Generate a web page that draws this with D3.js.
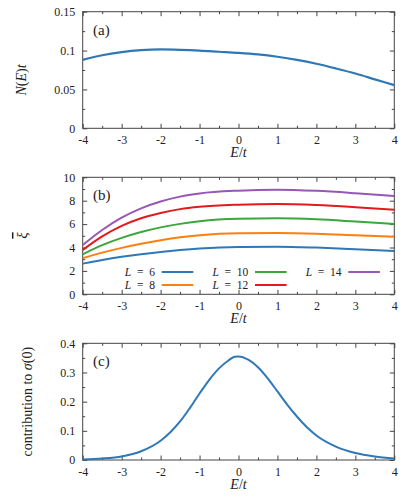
<!DOCTYPE html>
<html lang="en">
<head>
<meta charset="UTF-8">
<title>three-panel</title>
<style>
    body { margin: 0; background: #fff; }
    svg, svg text, svg tspan { font-family: "Liberation Serif", "Times New Roman", Times, "DejaVu Serif", "Noto Serif", serif !important; }
    svg text { fill: #222; }
</style>
<script src="https://d3js.org/d3.v7.min.js"></script>
</head>
<body>
<script>
    // ---- data ----
    let xTicks = [-4, -3, -2, -1, 0, 1, 2, 3, 4];
    let xMinor = [-3.5, -2.5, -1.5, -0.5, 0.5, 1.5, 2.5, 3.5];

    // (a) density of states N(E)t
    let energyA = [-4, -3.5, -3, -2.5, -2, -1.5, -1, -0.5, 0, 0.5, 1, 1.5, 2, 2.5, 3, 3.5, 4];
    let dos = [0.088, 0.094, 0.098, 0.1005, 0.1015, 0.101, 0.1, 0.0985, 0.097, 0.095, 0.092, 0.088, 0.083, 0.077, 0.0705, 0.063, 0.0555];
    let yTicksA = [0, 0.05, 0.1, 0.15];
    let yLabelsA = ["0", "0.05", "0.1", "0.15"];
    let yMinorA = [0.025, 0.075, 0.125];

    // (b) mean localisation length for each L
    let energyB = [-4, -3.5, -3, -2.5, -2, -1.5, -1, 0, 1, 2, 3, 4];
    let sizes = [6, 8, 10, 12, 14];
    let xiL6 = [2.62, 2.93, 3.20, 3.43, 3.62, 3.78, 3.91, 4.05, 4.07, 3.99, 3.85, 3.70];
    let xiL8 = [3.08, 3.56, 3.97, 4.32, 4.62, 4.87, 5.05, 5.22, 5.24, 5.18, 5.05, 4.92];
    let xiL10 = [3.42, 4.20, 4.82, 5.32, 5.72, 6.02, 6.24, 6.45, 6.49, 6.41, 6.22, 6.01];
    let xiL12 = [3.79, 4.95, 5.85, 6.50, 6.95, 7.28, 7.48, 7.66, 7.72, 7.63, 7.45, 7.23];
    let xiL14 = [4.21, 5.50, 6.55, 7.35, 7.93, 8.35, 8.62, 8.86, 8.94, 8.84, 8.64, 8.40];
    let colorsB = ["#2f78b8", "#ff7f0e", "#3ca63c", "#e4191c", "#9857b4"];
    let yTicksB = [0, 2, 4, 6, 8, 10];
    let yLabelsB = ["0", "2", "4", "6", "8", "10"];
    let yMinorB = [1, 3, 5, 7, 9];

    // (c) contribution to sigma(0)
    let energyC = [-4, -3.5, -3, -2.5, -2, -1.75, -1.5, -1.25, -1, -0.75, -0.5, -0.25, -0.1, 0, 0.25, 0.5, 0.75, 1, 1.25, 1.5, 1.75, 2, 2.5, 3, 3.5, 4];
    let sigma = [0.002, 0.005, 0.012, 0.030, 0.066, 0.095, 0.132, 0.178, 0.228, 0.275, 0.314, 0.342, 0.354, 0.355, 0.344, 0.318, 0.280, 0.235, 0.190, 0.149, 0.113, 0.084, 0.046, 0.024, 0.012, 0.005];
    let yTicksC = [0, 0.1, 0.2, 0.3, 0.4];
    let yLabelsC = ["0", "0.1", "0.2", "0.3", "0.4"];
    let yMinorC = [0.05, 0.15, 0.25, 0.35];

    let width = 415, height = 498;
    let left = 82.7, right = 394.3;
    let frameColor = "#444";
    let serif = "'Liberation Serif', 'Times New Roman', 'DejaVu Serif', serif";

    let svg = d3.select("body").append("svg")
        .attr("width", width).attr("height", height)
        .attr("font-family", serif);

    let x = d3.scaleLinear().domain([-4, 4]).range([left, right]);

    function panel(top, bottom, yDomain, yTicks, yLabels, yMinor, tag) {
        let y = d3.scaleLinear().domain(yDomain).range([bottom, top]);
        let g = svg.append("g");

        // ticks, all pointing inward, mirrored on top/right
        let axes = [
            [d3.axisBottom(x).tickValues(xTicks).tickSize(-4.5).tickPadding(7).tickFormat(d => String(d)), `translate(0,${bottom})`],
            [d3.axisBottom(x).tickValues(xMinor).tickSize(-2.5).tickFormat(""), `translate(0,${bottom})`],
            [d3.axisTop(x).tickValues(xTicks).tickSize(-4.5).tickFormat(""), `translate(0,${top})`],
            [d3.axisTop(x).tickValues(xMinor).tickSize(-2.5).tickFormat(""), `translate(0,${top})`],
            [d3.axisLeft(y).tickValues(yTicks).tickSize(-4.5).tickPadding(7.5).tickFormat((d, i) => yLabels[i]), `translate(${left},0)`],
            [d3.axisLeft(y).tickValues(yMinor).tickSize(-2.5).tickFormat(""), `translate(${left},0)`],
            [d3.axisRight(y).tickValues(yTicks).tickSize(-4.5).tickFormat(""), `translate(${right},0)`],
            [d3.axisRight(y).tickValues(yMinor).tickSize(-2.5).tickFormat(""), `translate(${right},0)`]
        ];
        axes.forEach(a => {
            let ag = g.append("g").attr("transform", a[1]).call(a[0])
                .attr("font-family", serif);
            ag.select(".domain").remove();
            ag.selectAll("line").attr("stroke", frameColor);
            ag.selectAll("text").attr("font-size", 12).attr("fill", "#222");
        });

        g.append("rect")
            .attr("x", left).attr("y", top)
            .attr("width", right - left).attr("height", bottom - top)
            .attr("fill", "none").attr("stroke", frameColor).attr("stroke-width", 1);

        g.append("text")
            .attr("x", 93).attr("y", top + 23)
            .attr("font-size", 15)
            .text(tag);

        // x axis title E/t
        let xt = g.append("text")
            .attr("x", x(0)).attr("y", bottom + 29)
            .attr("text-anchor", "middle").attr("font-size", 14);
        xt.append("tspan").attr("font-style", "italic").text("E");
        xt.append("tspan").text("/");
        xt.append("tspan").attr("font-style", "italic").text("t");

        return {g: g, y: y};
    }

    // ---- panel (a) ----
    let pa = panel(11.7, 128.3, [0, 0.15], yTicksA, yLabelsA, yMinorA, "(a)");
    pa.g.append("path")
        .datum(d3.zip(energyA, dos))
        .attr("fill", "none")
        .attr("stroke", colorsB[0])
        .attr("stroke-width", 2.2)
        .attr("d", d3.line().curve(d3.curveMonotoneX).x(d => x(d[0])).y(d => pa.y(d[1])));

    let ya = pa.g.append("text")
        .attr("transform", "translate(23,80) rotate(-90)")
        .attr("text-anchor", "middle").attr("dominant-baseline", "middle")
        .attr("font-size", 14);
    ya.append("tspan").attr("font-style", "italic").text("N");
    ya.append("tspan").text("(");
    ya.append("tspan").attr("font-style", "italic").text("E");
    ya.append("tspan").text(")");
    ya.append("tspan").attr("font-style", "italic").text("t");

    // ---- panel (b) ----
    let pb = panel(177.3, 294.3, [0, 10], yTicksB, yLabelsB, yMinorB, "(b)");
    let series = [xiL6, xiL8, xiL10, xiL12, xiL14];
    let lineB = d3.line().curve(d3.curveMonotoneX).x(d => x(d[0])).y(d => pb.y(d[1]));
    series.forEach((s, i) => {
        pb.g.append("path")
            .datum(d3.zip(energyB, s))
            .attr("fill", "none")
            .attr("stroke", colorsB[i])
            .attr("stroke-width", 2)
            .attr("d", lineB);
    });

    pb.g.append("text")
        .attr("transform", "translate(23.5,235.5) rotate(-90)")
        .attr("text-anchor", "middle").attr("dominant-baseline", "middle")
        .attr("font-size", 15).attr("font-style", "italic")
        .style("text-decoration", "overline")
        .text("ξ");

    // legend: two rows, three columns
    sizes.forEach((L, i) => {
        let col = Math.floor(i / 2), row = i % 2;
        let tx = 155 + col * 93.3;
        let ly = 272 + row * 13;
        let t = pb.g.append("text")
            .attr("x", tx).attr("y", ly + 4)
            .attr("text-anchor", "end").attr("font-size", 11.5);
        t.append("tspan").attr("font-style", "italic").text("L");
        t.append("tspan").text("\u2002=\u2002" + L);
        pb.g.append("line")
            .attr("x1", tx + 6.7).attr("x2", tx + 38.3)
            .attr("y1", ly).attr("y2", ly)
            .attr("stroke", colorsB[i]).attr("stroke-width", 2);
    });

    // ---- panel (c) ----
    let pc = panel(343.3, 460, [0, 0.4], yTicksC, yLabelsC, yMinorC, "(c)");
    pc.g.append("path")
        .datum(d3.zip(energyC, sigma))
        .attr("fill", "none")
        .attr("stroke", colorsB[0])
        .attr("stroke-width", 2)
        .attr("d", d3.line().curve(d3.curveMonotoneX).x(d => x(d[0])).y(d => pc.y(d[1])));

    let yc = pc.g.append("text")
        .attr("transform", "translate(29,401.7) rotate(-90)")
        .attr("text-anchor", "middle").attr("dominant-baseline", "middle")
        .attr("font-size", 14);
    yc.append("tspan").text("contribution to ");
    yc.append("tspan").attr("font-style", "italic").text("σ");
    yc.append("tspan").text("(0)");
</script>
</body>
</html>
